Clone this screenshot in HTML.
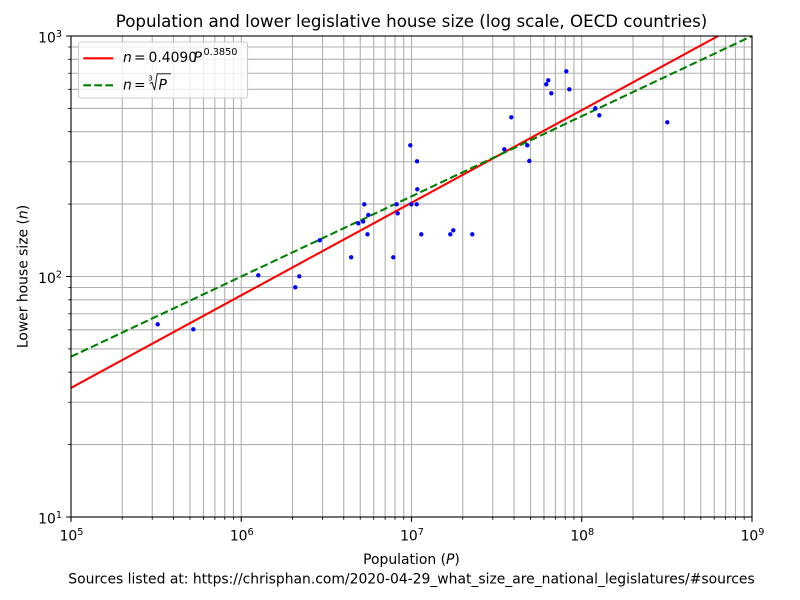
<!DOCTYPE html>
<html>
<head>
<meta charset="utf-8">
<style>
  html, body { margin: 0; padding: 0; background: #ffffff; }
  svg { display: block; }
  text { font-family: "DejaVu Sans", "Liberation Sans", sans-serif; fill: #000; }
</style>
</head>
<body>
<svg width="800" height="600" viewBox="0 0 800 600" xmlns="http://www.w3.org/2000/svg">
  <rect x="0" y="0" width="800" height="600" fill="#ffffff"/>
  <defs>
    <clipPath id="ax"><rect x="71" y="36" width="681" height="481"/></clipPath>
  </defs>

  <!-- grid -->
  <g stroke="#b0b0b0" stroke-width="1.1" fill="none">
    <path d="M122.25 36V517M152.23 36V517M173.5 36V517M190 36V517M203.48 36V517M214.88 36V517M224.75 36V517M233.46 36V517M241.25 36V517
             M292.5 36V517M322.48 36V517M343.75 36V517M360.25 36V517M373.73 36V517M385.13 36V517M395 36V517M403.71 36V517M411.5 36V517
             M462.75 36V517M492.73 36V517M514 36V517M530.5 36V517M543.98 36V517M555.38 36V517M565.25 36V517M573.96 36V517M581.75 36V517
             M633 36V517M662.98 36V517M684.25 36V517M700.75 36V517M714.23 36V517M725.63 36V517M735.5 36V517M744.21 36V517"/>
    <path d="M71 444.6H752M71 402.25H752M71 372.2H752M71 348.9H752M71 329.85H752M71 313.75H752M71 299.81H752M71 287.51H752M71 276.5H752
             M71 204.1H752M71 161.75H752M71 131.7H752M71 108.4H752M71 89.35H752M71 73.25H752M71 59.31H752M71 47.01H752"/>
  </g>

  <!-- fit lines -->
  <g clip-path="url(#ax)" fill="none" stroke-width="2.08">
    <line x1="71" y1="387.9" x2="718.1" y2="36" stroke="#ff0000"/>
    <line x1="71" y1="356.7" x2="752" y2="36" stroke="#008000" stroke-dasharray="7.7 3.33"/>
  </g>

  <!-- data points -->
  <g fill="#0000ff" clip-path="url(#ax)">
    <circle cx="157.7" cy="324.3" r="2.2"/>
    <circle cx="193.3" cy="329.3" r="2.2"/>
    <circle cx="258.3" cy="275.3" r="2.2"/>
    <circle cx="295.3" cy="287.3" r="2.2"/>
    <circle cx="299.3" cy="276.3" r="2.2"/>
    <circle cx="319.7" cy="240.3" r="2.2"/>
    <circle cx="351.2" cy="257.3" r="2.2"/>
    <circle cx="358.3" cy="223.3" r="2.2"/>
    <circle cx="363.2" cy="221.5" r="2.2"/>
    <circle cx="364.3" cy="204.3" r="2.2"/>
    <circle cx="367.5" cy="234.3" r="2.2"/>
    <circle cx="368.3" cy="215" r="2.2"/>
    <circle cx="393.3" cy="257.3" r="2.2"/>
    <circle cx="396.7" cy="204.3" r="2.2"/>
    <circle cx="397.7" cy="213.3" r="2.2"/>
    <circle cx="410.3" cy="145.3" r="2.2"/>
    <circle cx="411.3" cy="204.3" r="2.2"/>
    <circle cx="416.7" cy="204.3" r="2.2"/>
    <circle cx="417" cy="161.3" r="2.2"/>
    <circle cx="417.3" cy="189.3" r="2.2"/>
    <circle cx="421.3" cy="234.3" r="2.2"/>
    <circle cx="450.3" cy="234.3" r="2.2"/>
    <circle cx="453.3" cy="230.3" r="2.2"/>
    <circle cx="472.3" cy="234.3" r="2.2"/>
    <circle cx="504.3" cy="149.3" r="2.2"/>
    <circle cx="511.3" cy="117.3" r="2.2"/>
    <circle cx="527.3" cy="145.3" r="2.2"/>
    <circle cx="529.3" cy="161" r="2.2"/>
    <circle cx="546.3" cy="84.3" r="2.2"/>
    <circle cx="548.3" cy="80.3" r="2.2"/>
    <circle cx="551.3" cy="93.3" r="2.2"/>
    <circle cx="566.3" cy="71.3" r="2.2"/>
    <circle cx="569.3" cy="89.3" r="2.2"/>
    <circle cx="595.3" cy="108.3" r="2.2"/>
    <circle cx="599.3" cy="115.3" r="2.2"/>
    <circle cx="667.3" cy="122.3" r="2.2"/>
  </g>

  <!-- spines -->
  <rect x="71" y="36" width="681" height="481" fill="none" stroke="#000" stroke-width="1.1"/>

  <!-- major ticks -->
  <g stroke="#000" stroke-width="1.1">
    <path d="M71 517v4.9M241.25 517v4.9M411.5 517v4.9M581.75 517v4.9M752 517v4.9"/>
    <path d="M71 517h-4.9M71 276.5h-4.9M71 36h-4.9"/>
  </g>
  <!-- minor ticks -->
  <g stroke="#000" stroke-width="0.85">
    <path d="M122.25 517v2.8M152.23 517v2.8M173.5 517v2.8M190 517v2.8M203.48 517v2.8M214.88 517v2.8M224.75 517v2.8M233.46 517v2.8
             M292.5 517v2.8M322.48 517v2.8M343.75 517v2.8M360.25 517v2.8M373.73 517v2.8M385.13 517v2.8M395 517v2.8M403.71 517v2.8
             M462.75 517v2.8M492.73 517v2.8M514 517v2.8M530.5 517v2.8M543.98 517v2.8M555.38 517v2.8M565.25 517v2.8M573.96 517v2.8
             M633 517v2.8M662.98 517v2.8M684.25 517v2.8M700.75 517v2.8M714.23 517v2.8M725.63 517v2.8M735.5 517v2.8M744.21 517v2.8"/>
    <path d="M71 444.6h-2.8M71 402.25h-2.8M71 372.2h-2.8M71 348.9h-2.8M71 329.85h-2.8M71 313.75h-2.8M71 299.81h-2.8M71 287.51h-2.8
             M71 204.1h-2.8M71 161.75h-2.8M71 131.7h-2.8M71 108.4h-2.8M71 89.35h-2.8M71 73.25h-2.8M71 59.31h-2.8M71 47.01h-2.8"/>
  </g>

  <!-- x tick labels -->
  <g font-size="13.9" text-anchor="middle">
    <text x="71.5" y="540.5">10<tspan font-size="9.7" dy="-5.6">5</tspan></text>
    <text x="241.75" y="540.5">10<tspan font-size="9.7" dy="-5.6">6</tspan></text>
    <text x="412" y="540.5">10<tspan font-size="9.7" dy="-5.6">7</tspan></text>
    <text x="582.25" y="540.5">10<tspan font-size="9.7" dy="-5.6">8</tspan></text>
    <text x="752.5" y="540.5">10<tspan font-size="9.7" dy="-5.6">9</tspan></text>
  </g>
  <!-- y tick labels -->
  <g font-size="13.9" text-anchor="end">
    <text x="62" y="523.5">10<tspan font-size="9.7" dy="-5.6">1</tspan></text>
    <text x="62" y="283">10<tspan font-size="9.7" dy="-5.6">2</tspan></text>
    <text x="62" y="42.5">10<tspan font-size="9.7" dy="-5.6">3</tspan></text>
  </g>

  <!-- title & labels -->
  <text x="411.5" y="27" font-size="16.67" text-anchor="middle">Population and lower legislative house size (log scale, OECD countries)</text>
  <text x="411.5" y="564" font-size="13.9" text-anchor="middle">Population (<tspan font-style="italic">P</tspan>)</text>
  <text x="411.5" y="583.5" font-size="13.9" text-anchor="middle">Sources listed at: https://chrisphan.com/2020-04-29_what_size_are_national_legislatures/#sources</text>
  <text x="27.5" y="276.5" font-size="13.9" text-anchor="middle" transform="rotate(-90 27.5 276.5)">Lower house size (<tspan font-style="italic">n</tspan>)</text>

  <!-- legend -->
  <rect x="78.5" y="42" width="169" height="56" rx="2.5" ry="2.5" fill="#ffffff" fill-opacity="0.8" stroke="#cccccc" stroke-width="1.1"/>
  <line x1="83.3" y1="58.3" x2="113.3" y2="58.3" stroke="#ff0000" stroke-width="2.08"/>
  <line x1="83.3" y1="85.3" x2="113.3" y2="85.3" stroke="#008000" stroke-width="2.08" stroke-dasharray="7.7 3.33"/>
  <g font-size="13.9">
    <text y="62"><tspan x="123" font-style="italic">n</tspan><tspan x="134">=</tspan><tspan x="148.5">0.4090</tspan><tspan x="193.5" font-style="italic">P</tspan><tspan x="203.5" font-size="9.7" dy="-7">0.3850</tspan></text>
    <text y="89.5"><tspan x="123" font-style="italic">n</tspan><tspan x="134">=</tspan></text>
    <text x="148.3" y="80.5" font-size="7">3</text>
    <path d="M149.8 83.5 L152 82.3 L154.6 90 L157.2 73.8 L171 73.8" fill="none" stroke="#000" stroke-width="0.9"/>
    <text x="158.5" y="89.5" font-style="italic">P</text>
  </g>
</svg>
</body>
</html>
